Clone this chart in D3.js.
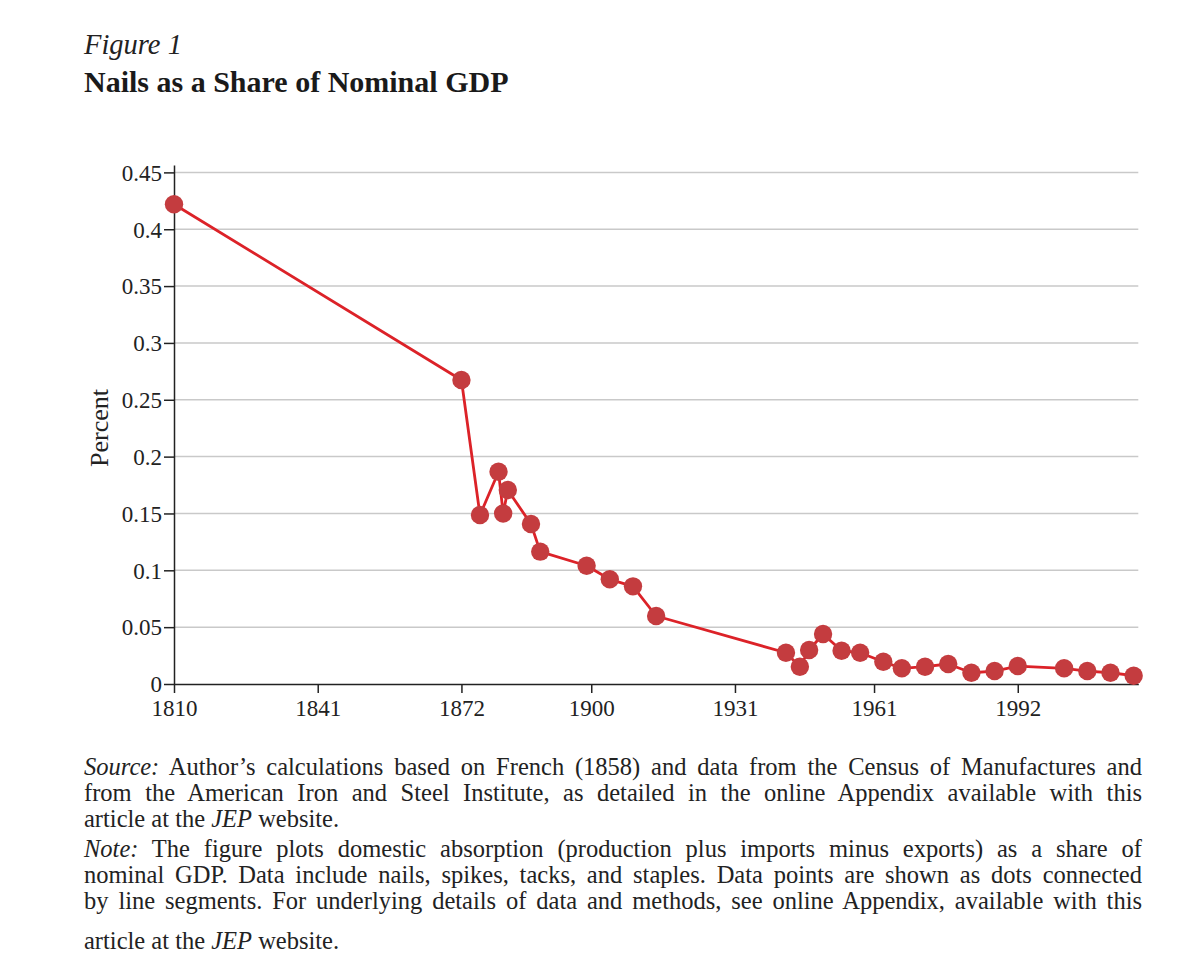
<!DOCTYPE html>
<html>
<head>
<meta charset="utf-8">
<script src="https://cdn.jsdelivr.net/npm/d3@7"></script>
<style>
  html, body { margin: 0; padding: 0; background: #fff; }
  #wrap { position: relative; width: 1200px; height: 978px; overflow: hidden; }
  svg { position: absolute; left: 0; top: 0; }
  .notes { position: absolute; left: 84px; top: 0; width: 1058px; font-family: "Liberation Serif", "Times New Roman", serif; font-size: 24.5px; color: #222; }
  .notes div { position: absolute; left: 0; line-height: 25.5px; height: 25.5px; white-space: nowrap; }
  .notes span.ln { display: inline-block; white-space: nowrap; }
</style>
</head>
<body>
<div id="wrap"></div>
<script>
// ---- data ----
const years = [1810, 1872, 1876, 1880, 1881, 1882, 1887, 1889, 1899, 1904, 1909, 1914,
               1942, 1945, 1947, 1950, 1954, 1958, 1963, 1967, 1972, 1977, 1982, 1987,
               1992, 2002, 2007, 2012, 2017];
const shares = [0.422, 0.2674, 0.1486, 0.1867, 0.150, 0.1706, 0.1407, 0.1164, 0.104, 0.0921,
                0.0859, 0.0598, 0.0275, 0.0152, 0.0299, 0.044, 0.0293, 0.0275, 0.0196, 0.0138,
                0.0152, 0.0176, 0.0099, 0.0114, 0.0158, 0.0138, 0.0114, 0.0099, 0.0073];
const xTicks = [1810, 1841, 1872, 1900, 1931, 1961, 1992];
const yTicks = [0, 0.05, 0.1, 0.15, 0.2, 0.25, 0.3, 0.35, 0.4, 0.45];
const yTickLabels = ["0", "0.05", "0.1", "0.15", "0.2", "0.25", "0.3", "0.35", "0.4", "0.45"];
const figLabel = "Figure 1";
const title = "Nails as a Share of Nominal GDP";
const yLabel = "Percent";
const noteLines = [
  {j: true,  html: "<i>Source:</i> Author’s calculations based on French (1858) and data from the Census of Manufactures and"},
  {j: true,  html: "from the American Iron and Steel Institute, as detailed in the online Appendix available with this"},
  {j: false, html: "article at the <i>JEP</i> website."},
  {j: true,  html: "<i>Note:</i> The figure plots domestic absorption (production plus imports minus exports) as a share of"},
  {j: true,  html: "nominal GDP. Data include nails, spikes, tacks, and staples. Data points are shown as dots connected"},
  {j: true,  html: "by line segments. For underlying details of data and methods, see online Appendix, available with this"},
  {j: false, html: "article at the <i>JEP</i> website."}
];

// layout constants
const W = 1200, H = 978;
const noteBaselines = [775, 801, 827, 857, 883, 909, 949];
const data = years.map((y, i) => ({year: y, v: shares[i]}));

const wrap = d3.select("#wrap");
const svg = wrap.append("svg").attr("width", W).attr("height", H);

const x = d3.scaleLinear().domain([1810, 2018]).range([174, 1138.3]);
const y = d3.scaleLinear().domain([0, 0.4565]).range([684, 165]);

const serif = "'Liberation Serif', 'Times New Roman', serif";

// titles
svg.append("text").attr("x", 84).attr("y", 54)
  .attr("font-family", serif).attr("font-style", "italic").attr("font-size", 28.5)
  .attr("fill", "#222").text(figLabel);
svg.append("text").attr("x", 84).attr("y", 92)
  .attr("font-family", serif).attr("font-weight", "bold").attr("font-size", 30)
  .attr("fill", "#1a1a1a").text(title);

// gridlines
svg.append("g").selectAll("line")
  .data(yTicks.filter(t => t > 0))
  .join("line")
  .attr("x1", x(1810)).attr("x2", x(2018))
  .attr("y1", d => y(d)).attr("y2", d => y(d))
  .attr("stroke", "#c9c9c9").attr("stroke-width", 1.5);

// y axis
const yAxis = d3.axisLeft(y).tickValues(yTicks).tickSize(10).tickSizeOuter(0)
  .tickFormat((d, i) => yTickLabels[i]);
const gy = svg.append("g").attr("transform", `translate(${x(1810)},0)`).call(yAxis);
gy.select(".domain").attr("stroke", "#222").attr("stroke-width", 1.5);
gy.selectAll(".tick line").attr("stroke", "#222").attr("stroke-width", 1.5);
gy.selectAll(".tick text").attr("font-family", serif).attr("font-size", 23)
  .attr("fill", "#222").attr("x", -12).attr("dy", "0.34em");

// x axis
const xAxis = d3.axisBottom(x).tickValues(xTicks).tickSize(9).tickSizeOuter(0)
  .tickFormat(d3.format("d"));
const gx = svg.append("g").attr("transform", `translate(0,${y(0)})`).call(xAxis);
gx.select(".domain").attr("stroke", "#222").attr("stroke-width", 1.5);
gx.selectAll(".tick line").attr("stroke", "#222").attr("stroke-width", 1.5);
gx.selectAll(".tick text").attr("font-family", serif).attr("font-size", 23)
  .attr("fill", "#222").attr("y", 16).attr("dy", "0.71em");

// y label
svg.append("text")
  .attr("transform", `translate(108,428) rotate(-90)`)
  .attr("text-anchor", "middle")
  .attr("font-family", serif).attr("font-size", 26).attr("fill", "#222")
  .text(yLabel);

// line
const line = d3.line().x(d => x(d.year)).y(d => y(d.v));
svg.append("path").datum(data).attr("d", line)
  .attr("fill", "none").attr("stroke", "#dc2228").attr("stroke-width", 2.8)
  .attr("stroke-linejoin", "round");

// dots
svg.append("g").selectAll("circle").data(data).join("circle")
  .attr("cx", d => x(d.year)).attr("cy", d => y(d.v)).attr("r", 9.2)
  .attr("fill", "#c43c3f");

// notes (justified line by line)
const notes = wrap.append("div").attr("class", "notes");
const rows = notes.selectAll("div").data(noteLines).join("div")
  .style("top", (d, i) => (noteBaselines[i] - 21.0) + "px");
rows.append("span").attr("class", "ln").html(d => d.html);
rows.each(function(d) {
  if (!d.j) return;
  const span = d3.select(this).select("span").node();
  const natural = span.getBoundingClientRect().width;
  const text = span.textContent;
  const nSpaces = (text.match(/ /g) || []).length;
  if (nSpaces > 0) {
    const extra = (1058 - natural) / nSpaces;
    span.style.wordSpacing = extra + "px";
  }
});
</script>
</body>
</html>
